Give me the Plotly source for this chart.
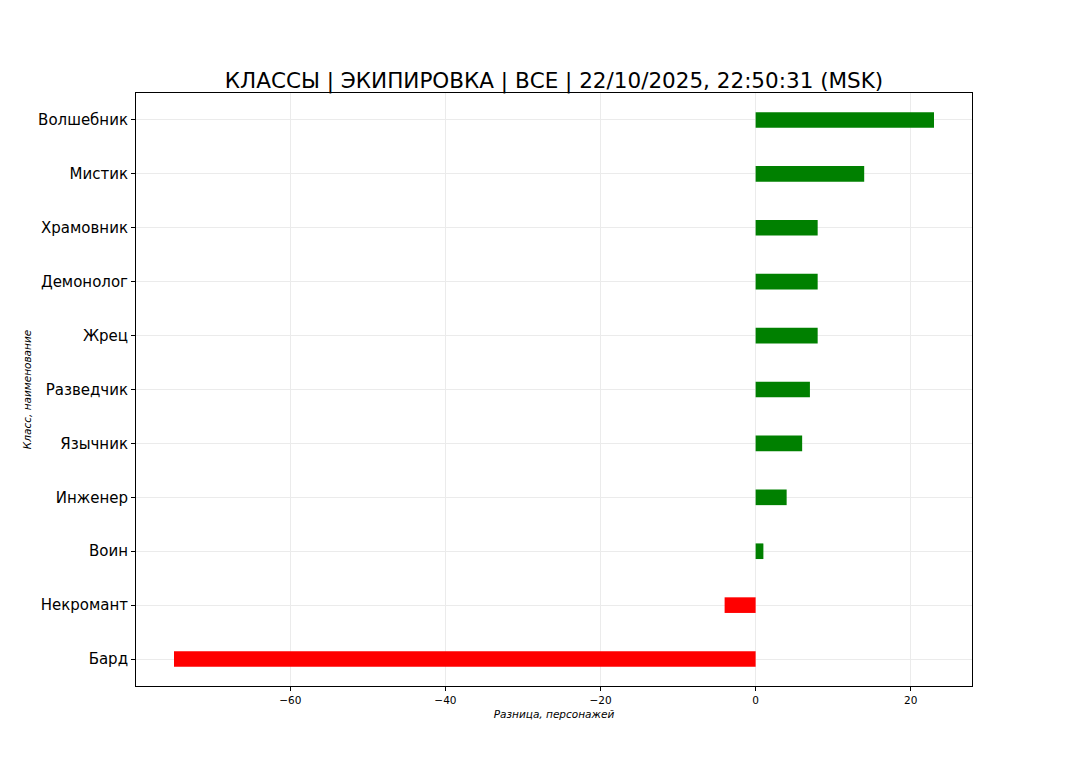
import plotly.graph_objects as go

classes = ["Бард", "Некромант", "Воин", "Инженер", "Язычник", "Разведчик",
           "Жрец", "Демонолог", "Храмовник", "Мистик", "Волшебник"]
diffs = [-75, -4, 1, 4, 6, 7, 8, 8, 8, 14, 23]
x_ticks = [-60, -40, -20, 0, 20]
x_tick_text = ["−60", "−40", "−20", "0", "20"]
title_text = "КЛАССЫ | ЭКИПИРОВКА | ВСЕ | 22/10/2025, 22:50:31 (MSK)"

colors = ["#008000" if v >= 0 else "#ff0000" for v in diffs]

fig = go.Figure(go.Bar(
    x=diffs, y=list(range(len(classes))), orientation="h",
    width=0.29, marker=dict(color=colors, line=dict(width=0)),
))

font = "DejaVu Sans, Arial, sans-serif"
W, H = 1064, 755
L, T = 128, 85
PW, PH = 836, 593
fig.update_layout(
    width=W, height=H,
    margin=dict(l=L, r=W - L - PW, t=T, b=H - T - PH),
    paper_bgcolor="white", plot_bgcolor="white",
    showlegend=False,
    font=dict(family=font, color="black"),
    title=dict(text=title_text, x=(L + PW / 2) / W, xanchor="center",
               y=1 - 72 / H, yanchor="middle",
               font=dict(size=21.5, family=font, color="black")),
    xaxis=dict(
        range=[-79.9, 27.9], tickvals=x_ticks, ticktext=x_tick_text,
        tickfont=dict(size=10.5), ticks="outside", ticklen=4, tickcolor="black",
        showgrid=True, gridcolor="#ebebeb", gridwidth=1,
        showline=True, linecolor="black", linewidth=1, mirror=True, zeroline=False,
        title=dict(text="<i>Разница, персонажей</i>", font=dict(size=10.5), standoff=6),
    ),
    yaxis=dict(
        range=[-0.5, 10.5], tickvals=list(range(len(classes))), ticktext=classes,
        tickfont=dict(size=15), ticks="outside", ticklen=4, tickcolor="black",
        showgrid=True, gridcolor="#ebebeb", gridwidth=1,
        showline=True, linecolor="black", linewidth=1, mirror=True, zeroline=False,
        title=dict(text="<i>Класс, наименование</i>", font=dict(size=10.5), standoff=4),
    ),
)

fig.write_html("out.html")
